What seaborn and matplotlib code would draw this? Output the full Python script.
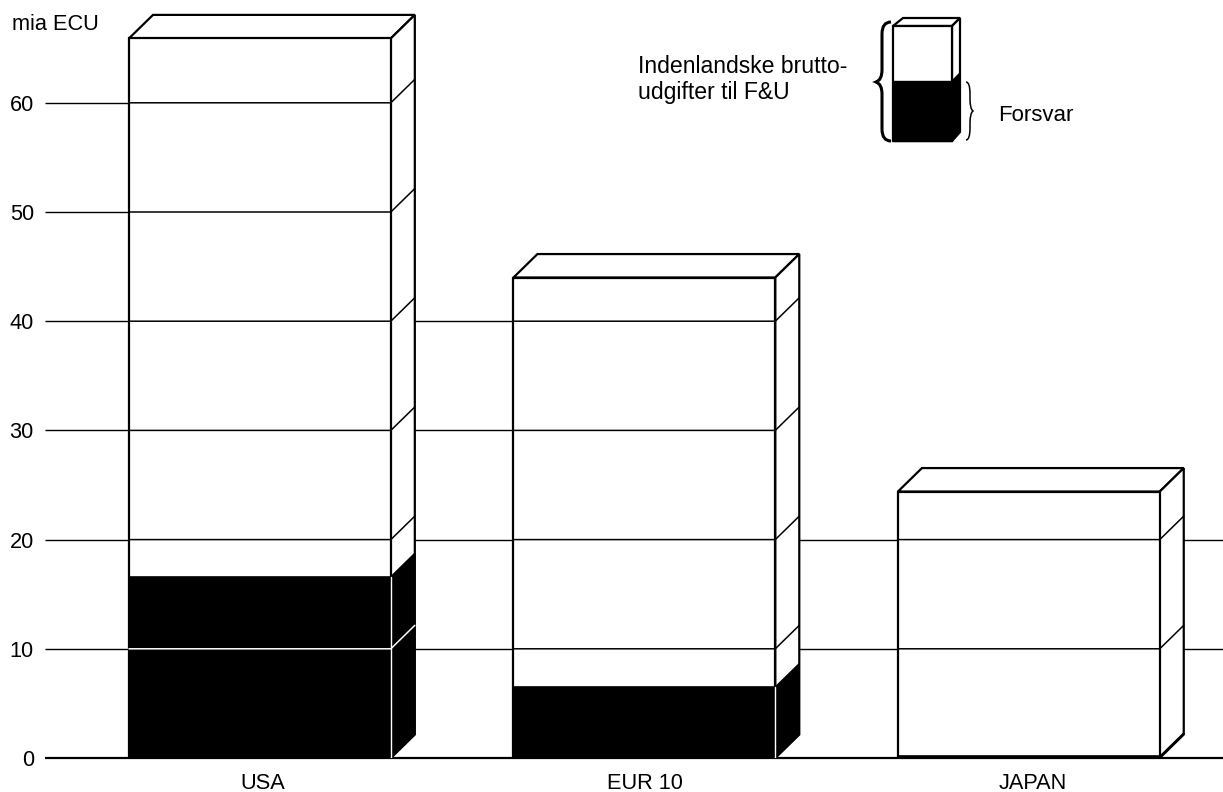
import matplotlib
matplotlib.use("Agg")
import matplotlib.pyplot as plt
import seaborn as sns
from matplotlib.patches import PathPatch, Polygon, Rectangle
from matplotlib.path import Path
from matplotlib.transforms import ScaledTranslation

# values, mia ECU
regions = ["USA", "EUR 10", "JAPAN"]
total_rd = [65.9, 44.0, 24.4]
defence = [16.6, 6.5, 0.15]
y_ticks = [0, 10, 20, 30, 40, 50, 60]

DX = 24 / 384.5   # depth of the fake 3d side, in category units
DY = 2.15         # and in value units
FONT = 15.7

sns.set_theme(style="white")
plt.rcParams["font.family"] = ["Liberation Sans", "DejaVu Sans"]

fig = plt.figure(figsize=(12.23, 7.92), dpi=100)
ax = fig.add_axes([45 / 1223, 34 / 792, 1178 / 1223, 758 / 792])

# front faces
sns.barplot(x=regions, y=total_rd, color="white", saturation=1, width=0.681,
            edgecolor="black", linewidth=1.6, zorder=3, ax=ax)
n_bars = len(regions)
sns.barplot(x=regions, y=defence, color="black", saturation=1, width=0.681,
            edgecolor="black", linewidth=1.2, zorder=3, ax=ax)

ax.set_xlim(-0.559, 2.505)
ax.set_ylim(0, 758 / 10.92)
ax.set_yticks(y_ticks)
ax.tick_params(axis="both", length=0, labelsize=FONT, colors="black")
ax.tick_params(axis="y", pad=8)
ax.tick_params(axis="x", pad=11)
sns.despine(ax=ax, left=True, bottom=True, top=True, right=True)

# the printed labels sit a little right of the bar centres
for lab, shift in zip(ax.get_xticklabels(), [3, 1, 4]):
    lab.set_transform(lab.get_transform() + ScaledTranslation(shift / 100, 0, fig.dpi_scale_trans))

rights = [p.get_x() + p.get_width() for p in ax.patches[:n_bars]]
lefts = [p.get_x() for p in ax.patches[:n_bars]]

# gridlines stop behind the last bar that reaches them
for v in y_ticks:
    reaching = [i for i in range(n_bars) if total_rd[i] >= v]
    last = reaching[-1]
    end = ax.get_xlim()[1] if last == n_bars - 1 else rights[last]
    ax.hlines(v, ax.get_xlim()[0], end, color="black",
              lw=1.6 if v == 0 else 1.0, zorder=1, clip_on=False)

for i in range(n_bars):
    x0, x1, h, d = lefts[i], rights[i], total_rd[i], defence[i]
    # top and side faces
    ax.add_patch(Polygon([(x0, h), (x0 + DX, h + DY), (x1 + DX, h + DY), (x1, h)],
                         fc="white", ec="black", lw=1.6, zorder=2))
    ax.add_patch(Polygon([(x1, 0), (x1 + DX, DY), (x1 + DX, h + DY), (x1, h)],
                         fc="white", ec="black", lw=1.6, zorder=2, clip_on=False))
    ax.add_patch(Polygon([(x1, 0), (x1 + DX, DY), (x1 + DX, d + DY), (x1, d)],
                         fc="black", ec="black", lw=1, zorder=2.5, clip_on=False))
    # white edge where the side meets the front inside the dark part
    if d > 1:
        ax.plot([x1, x1], [0, d], color="white", lw=1, zorder=4.5)
    # gridlines carried over the bar
    for v in y_ticks[1:]:
        if v < h:
            c = "white" if v < d else "black"
            ax.plot([x0, x1, x1 + DX], [v, v, v + DY], color=c, lw=1.1, zorder=4)

# overlay in pixel coordinates for the key and the loose labels
key = fig.add_axes([0, 0, 1, 1], facecolor="none")
key.set_xlim(0, 1223)
key.set_ylim(792, 0)
key.axis("off")

key.text(12, 30, "mia ECU", fontsize=FONT, va="baseline", ha="left", color="black")
key.text(638, 73, "Indenlandske brutto-", fontsize=16.6, va="baseline", color="black")
key.text(638, 99, "udgifter til F&U", fontsize=16.6, va="baseline", color="black")
key.text(998, 121, "Forsvar", fontsize=16, va="baseline", color="black")

key.add_patch(Polygon([(893, 26), (903, 18), (960, 18), (952, 26)], fc="white", ec="black", lw=1.6))
key.add_patch(Polygon([(952, 26), (960, 18), (960, 132), (952, 141)], fc="white", ec="black", lw=1.6))
key.add_patch(Polygon([(952, 81), (960, 73), (960, 132), (952, 141)], fc="black", ec="black", lw=1))
key.add_patch(Rectangle((893, 26), 59, 115, fc="white", ec="black", lw=1.6))
key.add_patch(Rectangle((893, 81), 59, 60, fc="black", ec="black", lw=1))


def brace(x_end, x_spine, x_tip, y_top, y_mid, y_bot, lw):
    verts = [(x_end, y_top), (x_spine, y_top), (x_spine, y_top + 12),
             (x_spine, y_mid - 12), (x_spine, y_mid - 2), (x_tip, y_mid),
             (x_spine, y_mid + 2), (x_spine, y_mid + 12),
             (x_spine, y_bot - 12), (x_spine, y_bot), (x_end, y_bot)]
    codes = [Path.MOVETO, Path.CURVE3, Path.CURVE3, Path.LINETO, Path.CURVE3, Path.CURVE3,
             Path.CURVE3, Path.CURVE3, Path.LINETO, Path.CURVE3, Path.CURVE3]
    key.add_patch(PathPatch(Path(verts, codes), fc="none", ec="black", lw=lw))


brace(891, 882, 876, 22, 82, 141, 2.2)
brace(966, 970, 973, 82, 111, 140, 1.1)

fig.savefig("out.png", dpi=100)
